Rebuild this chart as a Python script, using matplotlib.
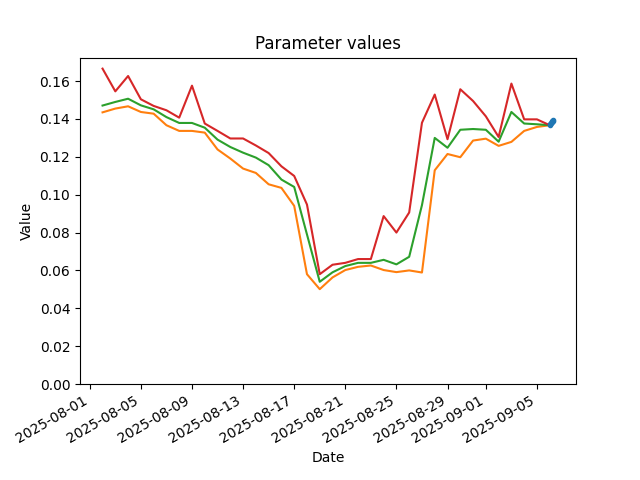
import pandas as pd
import matplotlib
matplotlib.use("Agg")
import matplotlib.pyplot as plt

# daily dates, 2025-08-02 .. 2025-09-06
dates = pd.date_range("2025-08-02", "2025-09-06", freq="D")

lower = [0.1435, 0.1455, 0.1467, 0.1437, 0.1428, 0.1367, 0.1337, 0.1337, 0.1328, 0.1239,
         0.1191, 0.1138, 0.1115, 0.1055, 0.1036, 0.0941, 0.0580, 0.0501, 0.0563, 0.0602,
         0.0619, 0.0626, 0.0602, 0.0591, 0.0600, 0.0589, 0.1129, 0.1215, 0.1198, 0.1286,
         0.1296, 0.1258, 0.1279, 0.1337, 0.1358, 0.1367]

mid = [0.1471, 0.1490, 0.1507, 0.1472, 0.1451, 0.1410, 0.1379, 0.1379, 0.1354, 0.1291,
       0.1252, 0.1222, 0.1196, 0.1156, 0.1080, 0.1041, 0.0790, 0.0540, 0.0590, 0.0623,
       0.0640, 0.0640, 0.0656, 0.0632, 0.0672, 0.0945, 0.1300, 0.1248, 0.1343, 0.1347,
       0.1343, 0.1280, 0.1437, 0.1376, 0.1372, 0.1367]

upper = [0.1666, 0.1546, 0.1627, 0.1504, 0.1469, 0.1446, 0.1407, 0.1576, 0.1376, 0.1337,
         0.1297, 0.1297, 0.1260, 0.1220, 0.1150, 0.1099, 0.0948, 0.0580, 0.0630, 0.0640,
         0.0660, 0.0660, 0.0887, 0.0800, 0.0906, 0.1380, 0.1529, 0.1293, 0.1557, 0.1495,
         0.1414, 0.1305, 0.1587, 0.1398, 0.1398, 0.1367]

# hourly values on the last day
recent_times = pd.date_range("2025-09-06 00:00", "2025-09-06 07:00", freq="h")
recent = [0.1368, 0.1372, 0.1377, 0.1381, 0.1385, 0.1388, 0.1391, 0.1394]

fig, ax = plt.subplots(figsize=(6.4, 4.8), dpi=100)
ax.plot(dates, lower, color="C1")
ax.plot(dates, mid, color="C2")
ax.plot(dates, upper, color="C3")
ax.plot(recent_times, recent, color="C0", marker="o", markersize=3)

ax.set_ylim(bottom=0)
ax.set_title("Parameter values")
ax.set_xlabel("Date")
ax.set_ylabel("Value")
fig.autofmt_xdate()

fig.savefig("out.png")
